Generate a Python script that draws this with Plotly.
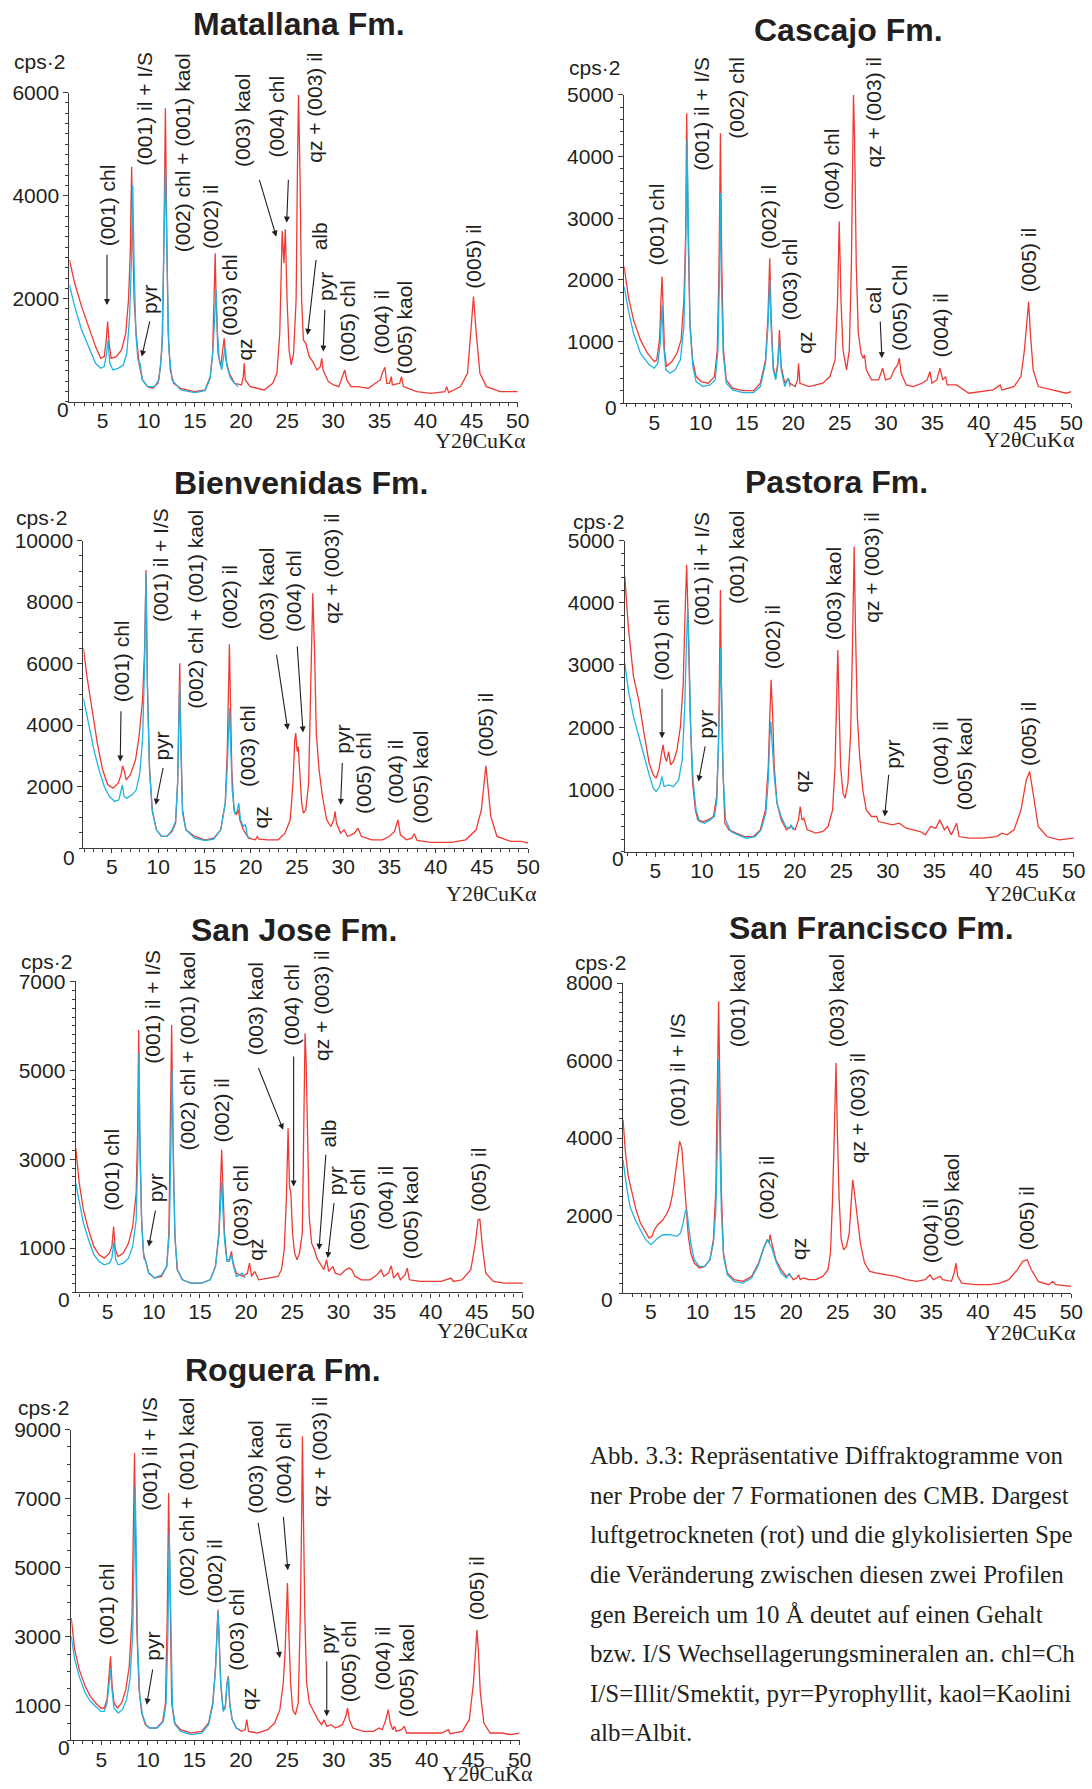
import plotly.graph_objects as go

W, H = 1092, 1789
# measured mapping from figure pixels to the photographed picture (picture = TY0 + SY*fig_y, SX*fig_x)
SX, SY, TY0 = 0.991, 0.9935, 12.0

# ---------------- data: (2theta, cps*2) ----------------
MAT_RED = [(1.4, 2751), (1.97, 2298), (2.72, 1845), (3.47, 1456), (4.23, 1068), (4.79, 841), (5.17, 874), (5.39, 1197),
           (5.54, 1553), (5.70, 1133), (5.92, 841), (6.49, 874), (7.05, 1003), (7.5, 1327), (7.8, 1974), (8.0, 2945),
           (8.14, 4563), (8.26, 3269), (8.41, 1974), (8.63, 1327), (8.94, 744), (9.31, 421), (9.88, 291), (10.44, 259),
           (11.0, 356), (11.27, 680), (11.5, 1327), (11.65, 3269), (11.8, 5696), (11.95, 3269), (12.1, 1327), (12.33, 615),
           (12.7, 356), (13.46, 259), (14.96, 194), (16.1, 227), (16.66, 485), (16.92, 939), (17.1, 1974), (17.2, 2880),
           (17.3, 1974), (17.5, 939), (17.8, 680), (17.98, 939), (18.17, 1230), (18.36, 809), (18.73, 550), (19.3, 356),
           (20.05, 324), (20.24, 485), (20.35, 744), (20.46, 421), (20.99, 291), (22.5, 227), (23.44, 356), (23.89, 550),
           (24.2, 1327), (24.46, 3314), (24.65, 2686), (24.8, 3347), (24.99, 1974), (25.21, 1003), (25.44, 712), (25.7, 939),
           (25.97, 1974), (26.12, 4563), (26.23, 5955), (26.38, 4563), (26.57, 1974), (26.76, 1197), (27.02, 1133), (27.4, 874),
           (27.78, 777), (28.23, 615), (28.6, 680), (28.75, 841), (28.9, 615), (29.47, 388), (30.04, 324), (30.6, 291),
           (30.98, 485), (31.24, 615), (31.47, 421), (31.92, 291), (32.67, 291), (33.8, 259), (34.56, 356), (35.1, 421),
           (35.3, 550), (35.6, 667), (35.8, 356), (36.1, 356), (36.3, 485), (36.4, 324), (37.2, 356), (37.4, 485),
           (37.6, 291), (39.05, 194), (40.6, 162), (42.1, 194), (42.3, 291), (42.5, 175), (43.8, 291), (44.55, 550),
           (44.9, 1327), (45.2, 2039), (45.5, 1327), (45.9, 550), (46.6, 291), (48.1, 194), (50.0, 194)]
MAT_BLUE = [(1.4, 2265), (1.97, 1845), (2.72, 1392), (3.47, 1068), (4.23, 744), (4.79, 647), (5.17, 680), (5.43, 939),
            (5.58, 1197), (5.77, 744), (6.11, 615), (6.67, 647), (7.24, 712), (7.62, 939), (7.92, 1650), (8.1, 2622),
            (8.26, 4207), (8.41, 2622), (8.6, 1327), (8.82, 809), (9.05, 744), (9.31, 421), (9.88, 291), (10.63, 291),
            (11.1, 421), (11.42, 1003), (11.61, 2622), (11.8, 4563), (11.99, 2622), (12.18, 1003), (12.52, 421), (13.46, 227),
            (14.96, 175), (16.1, 214), (16.66, 453), (16.96, 1003), (17.15, 1650), (17.3, 2168), (17.45, 1327), (17.64, 809),
            (17.9, 615), (18.1, 874), (18.29, 1068), (18.48, 680), (18.85, 453), (19.3, 356), (19.68, 291)]

CAS_RED = [(1.74, 2216), (2.19, 1730), (2.75, 1351), (3.5, 1027), (4.25, 811), (5.0, 676), (5.26, 703), (5.56, 1027),
           (5.71, 1676), (5.83, 2054), (5.94, 1567), (6.09, 865), (6.31, 595), (6.88, 676), (7.44, 811), (7.89, 1027),
           (8.19, 1676), (8.38, 2757), (8.49, 4702), (8.64, 2757), (8.83, 1351), (9.13, 703), (9.5, 432), (10.06, 351),
           (10.81, 324), (11.49, 432), (11.79, 865), (11.98, 2216), (12.13, 4378), (12.28, 2216), (12.46, 865), (12.76, 378),
           (13.44, 243), (14.56, 205), (15.69, 205), (16.44, 324), (17.0, 703), (17.26, 1405), (17.45, 2351), (17.6, 1405),
           (17.83, 595), (18.09, 405), (18.31, 649), (18.5, 1189), (18.69, 595), (19.07, 324), (19.44, 405), (19.63, 324),
           (20.2, 270), (20.45, 378), (20.56, 649), (20.71, 324), (21.69, 270), (23.19, 324), (23.94, 432), (24.5, 703),
           (24.77, 1676), (24.95, 2946), (25.14, 1676), (25.36, 865), (25.74, 541), (26.04, 865), (26.26, 2216), (26.41, 4378),
           (26.49, 5000), (26.6, 4378), (26.79, 2216), (27.01, 1135), (27.31, 811), (27.54, 730), (27.69, 784), (27.87, 541),
           (28.44, 378), (29.19, 378), (29.64, 568), (29.94, 378), (30.5, 405), (30.87, 541), (31.25, 622), (31.44, 730),
           (31.63, 486), (32.19, 297), (32.94, 270), (33.87, 324), (34.44, 378), (34.74, 514), (34.96, 324), (35.49, 378),
           (35.82, 568), (36.12, 378), (36.42, 432), (36.61, 297), (37.62, 297), (38.93, 162), (40.44, 189), (41.56, 216),
           (42.31, 297), (42.5, 216), (43.81, 270), (44.56, 432), (44.94, 865), (45.2, 1405), (45.39, 1649), (45.58, 1135),
           (45.88, 541), (46.44, 270), (47.94, 216), (49.44, 162), (50.0, 189)]
CAS_BLUE = [(1.74, 1892), (2.19, 1513), (2.75, 1135), (3.5, 811), (4.44, 622), (5.0, 568), (5.38, 649), (5.64, 973),
            (5.83, 1594), (5.98, 973), (6.24, 541), (6.69, 486), (7.25, 541), (7.81, 703), (8.19, 1243), (8.38, 2486),
            (8.53, 4270), (8.68, 2486), (8.86, 1189), (9.16, 595), (9.5, 351), (10.25, 270), (11.0, 297), (11.57, 378),
            (11.86, 865), (12.01, 1946), (12.13, 3405), (12.24, 1946), (12.43, 811), (12.76, 324), (13.44, 216), (14.56, 173),
            (15.69, 173), (16.44, 270), (17.0, 649), (17.26, 1243), (17.45, 2000), (17.6, 1243), (17.83, 541), (18.09, 378),
            (18.31, 595), (18.5, 1027), (18.69, 541), (19.07, 270), (19.44, 405), (19.66, 270)]

BIE_RED = [(1.92, 6500), (2.3, 5580), (2.86, 4496), (3.42, 3413), (3.99, 2546), (4.55, 2058), (5.11, 1950), (5.68, 2113),
           (5.98, 2383), (6.16, 2676), (6.35, 2492), (6.54, 2221), (6.99, 2383), (7.55, 2871), (7.93, 3629), (8.31, 4821),
           (8.53, 6446), (8.68, 9046), (8.83, 5363), (9.06, 2654), (9.36, 1246), (9.81, 596), (10.37, 379), (10.94, 379),
           (11.5, 542), (11.88, 813), (12.1, 2113), (12.21, 4279), (12.33, 6013), (12.44, 3738), (12.63, 1246), (13.0, 596),
           (13.94, 379), (15.07, 271), (16.01, 325), (16.76, 596), (17.25, 1463), (17.47, 3196), (17.59, 4821), (17.7, 6630),
           (17.81, 4821), (17.96, 2546), (18.19, 1246), (18.45, 1083), (18.68, 1246), (18.83, 921), (19.2, 596), (19.77, 325),
           (20.52, 271), (20.7, 379), (20.89, 293), (21.83, 271), (22.96, 271), (23.71, 488), (24.27, 921), (24.57, 2113),
           (24.76, 3521), (24.87, 3738), (25.02, 3142), (25.14, 3304), (25.29, 2546), (25.51, 1463), (25.7, 1138), (25.96, 1246),
           (26.26, 2113), (26.52, 5363), (26.71, 8288), (26.9, 6446), (27.09, 3738), (27.39, 2546), (27.76, 1679), (28.21, 921),
           (28.67, 704), (28.97, 921), (29.12, 1192), (29.27, 813), (29.72, 488), (30.1, 596), (30.47, 379), (31.22, 488),
           (31.6, 650), (31.97, 379), (33.1, 271), (34.23, 271), (34.98, 379), (35.54, 542), (35.92, 921), (36.18, 433),
           (36.86, 271), (37.42, 325), (37.68, 466), (37.98, 249), (39.48, 184), (41.74, 184), (43.24, 271), (44.37, 596),
           (44.93, 1246), (45.23, 2113), (45.42, 2676), (45.61, 2113), (45.95, 1029), (46.62, 379), (48.13, 217), (49.25, 217),
           (50.0, 163)]
BIE_BLUE = [(1.92, 4875), (2.48, 4063), (3.05, 3196), (3.61, 2546), (4.17, 2004), (4.74, 1679), (5.3, 1517), (5.75, 1571),
            (5.98, 1842), (6.13, 2058), (6.32, 1679), (6.62, 1625), (7.18, 1733), (7.63, 1896), (8.01, 2438), (8.31, 3521),
            (8.53, 5905), (8.68, 8938), (8.83, 5363), (9.06, 2546), (9.36, 1192), (9.81, 596), (10.37, 379), (10.94, 379),
            (11.5, 596), (11.88, 867), (12.1, 2113), (12.21, 3738), (12.33, 5363), (12.44, 3413), (12.63, 1138), (13.0, 596),
            (13.94, 325), (15.07, 249), (16.01, 293), (16.76, 596), (17.25, 1463), (17.47, 2654), (17.7, 4550), (17.85, 3196),
            (18.0, 1896), (18.26, 1138), (18.52, 1192), (18.71, 1463), (18.9, 921), (19.2, 704), (19.42, 758), (19.65, 379),
            (19.95, 325)]

PAS_RED = [(1.71, 4421), (2.08, 3617), (2.64, 2813), (3.2, 2438), (3.77, 1902), (4.33, 1420), (4.77, 1233), (5.07, 1179),
           (5.37, 1313), (5.63, 1527), (5.82, 1715), (6.01, 1527), (6.2, 1447), (6.42, 1608), (6.64, 1393), (6.94, 1447),
           (7.32, 1634), (7.69, 2010), (7.99, 2706), (8.18, 3778), (8.36, 4609), (8.51, 3778), (8.74, 2170), (9.0, 1099),
           (9.3, 670), (9.56, 509), (10.12, 482), (10.68, 509), (11.24, 563), (11.58, 884), (11.77, 1634), (11.88, 2706),
           (11.99, 4207), (12.1, 2706), (12.25, 1367), (12.47, 456), (12.92, 348), (13.67, 295), (14.6, 241), (15.54, 241),
           (16.28, 348), (16.84, 670), (17.14, 1367), (17.33, 2278), (17.44, 2760), (17.59, 2278), (17.78, 1367), (18.08, 777),
           (18.53, 509), (19.09, 348), (19.65, 402), (20.02, 348), (20.39, 509), (20.58, 723), (20.77, 509), (20.96, 536),
           (21.33, 348), (22.26, 295), (23.01, 322), (23.57, 402), (24.06, 670), (24.32, 1367), (24.51, 2438), (24.62, 3242),
           (24.74, 2438), (24.92, 1367), (25.18, 938), (25.41, 857), (25.71, 1099), (26.0, 1902), (26.19, 3242), (26.38, 4903),
           (26.53, 3510), (26.72, 2170), (26.97, 1527), (27.31, 991), (27.68, 670), (28.24, 563), (28.8, 563), (28.99, 482),
           (29.74, 456), (30.48, 429), (31.23, 456), (31.98, 375), (32.73, 348), (33.47, 322), (34.04, 268), (34.6, 402),
           (35.16, 375), (35.6, 509), (36.09, 348), (36.39, 402), (36.84, 268), (37.4, 456), (37.66, 241), (38.71, 214),
           (40.2, 214), (41.7, 241), (42.27, 295), (42.83, 268), (43.58, 348), (44.33, 670), (44.89, 1152), (45.26, 1286),
           (45.63, 938), (46.18, 402), (47.12, 241), (48.42, 188), (50.0, 214)]
PAS_BLUE = [(1.71, 3028), (2.08, 2599), (2.64, 2170), (3.2, 1849), (3.77, 1527), (4.33, 1233), (4.77, 1018), (5.07, 965),
            (5.45, 1045), (5.71, 1206), (5.93, 1045), (6.38, 1072), (6.94, 1045), (7.5, 1152), (7.88, 1474), (8.14, 2278),
            (8.32, 3242), (8.47, 3912), (8.62, 3242), (8.81, 1902), (9.07, 1099), (9.37, 670), (9.74, 482), (10.3, 456),
            (10.87, 509), (11.35, 563), (11.61, 831), (11.8, 1634), (11.91, 2385), (12.02, 3269), (12.14, 2385), (12.29, 1206),
            (12.55, 509), (13.11, 322), (13.86, 268), (14.79, 214), (15.72, 241), (16.36, 348), (16.88, 616), (17.14, 1152),
            (17.29, 1795), (17.41, 2090), (17.56, 1742), (17.78, 1206), (18.08, 777), (18.53, 563), (19.01, 402), (19.39, 375),
            (19.58, 429), (19.84, 348)]

SJO_RED = [(1.54, 3248), (1.92, 2460), (2.37, 1860), (2.93, 1410), (3.5, 1035), (4.06, 848), (4.63, 773), (5.19, 885),
           (5.46, 1035), (5.64, 1485), (5.83, 960), (6.13, 810), (6.7, 885), (7.26, 1110), (7.71, 1485), (8.09, 2235),
           (8.24, 3585), (8.36, 5910), (8.47, 3585), (8.66, 1710), (8.88, 885), (9.15, 698), (9.45, 435), (10.09, 323),
           (10.84, 360), (11.4, 585), (11.63, 1335), (11.78, 3585), (11.93, 6023), (12.08, 3585), (12.27, 1335), (12.53, 510),
           (13.1, 285), (14.04, 210), (15.17, 210), (16.11, 285), (16.68, 585), (17.05, 1335), (17.24, 2460), (17.35, 3210),
           (17.47, 2460), (17.66, 1335), (17.92, 735), (18.18, 735), (18.41, 923), (18.6, 660), (18.94, 435), (19.31, 398),
           (19.69, 360), (20.14, 435), (20.37, 660), (20.59, 360), (20.93, 473), (21.38, 285), (22.51, 323), (23.45, 360),
           (23.83, 510), (24.13, 960), (24.36, 2085), (24.55, 3698), (24.7, 2385), (24.85, 2235), (25.03, 1335), (25.26, 885),
           (25.52, 735), (25.79, 885), (26.09, 1335), (26.24, 3585), (26.39, 5835), (26.5, 5235), (26.65, 3585), (26.84, 1710),
           (27.1, 1110), (27.4, 960), (27.67, 773), (27.97, 660), (28.42, 510), (28.72, 735), (28.95, 473), (29.4, 585),
           (29.66, 435), (30.23, 398), (30.79, 510), (31.17, 548), (31.44, 510), (31.81, 360), (32.49, 285), (33.43, 285),
           (34.18, 398), (34.63, 510), (34.93, 360), (35.42, 435), (35.73, 600), (35.99, 323), (36.44, 435), (36.71, 285),
           (37.23, 398), (37.46, 548), (37.69, 285), (38.89, 248), (40.02, 248), (41.15, 248), (42.2, 323), (42.47, 248),
           (43.41, 285), (44.35, 510), (44.84, 1110), (45.14, 1635), (45.33, 1650), (45.6, 1035), (45.97, 435), (46.8, 248),
           (47.93, 210), (50.0, 210)]
SJO_BLUE = [(1.54, 2460), (1.92, 2010), (2.37, 1560), (2.93, 1185), (3.5, 848), (4.06, 698), (4.63, 623), (5.19, 660),
            (5.46, 773), (5.68, 1148), (5.87, 735), (6.13, 623), (6.7, 660), (7.26, 773), (7.71, 1035), (8.09, 1635),
            (8.28, 3210), (8.39, 5385), (8.51, 3210), (8.7, 1485), (8.92, 773), (9.15, 698), (9.45, 435), (10.09, 323),
            (10.84, 398), (11.4, 585), (11.67, 1335), (11.82, 2835), (11.97, 5010), (12.12, 2835), (12.31, 1185), (12.57, 510),
            (13.1, 285), (14.04, 210), (15.17, 210), (16.11, 285), (16.68, 585), (17.05, 1260), (17.24, 1935), (17.35, 2498),
            (17.47, 1935), (17.66, 1185), (17.92, 698), (18.18, 698), (18.41, 848), (18.6, 623), (18.94, 360), (19.31, 398),
            (19.58, 435), (19.88, 323)]

SFR_RED = [(2.02, 4473), (2.28, 3613), (2.58, 3011), (2.95, 2581), (3.4, 2151), (3.88, 1806), (4.44, 1548), (4.81, 1419),
           (5.11, 1462), (5.37, 1634), (5.74, 1763), (6.3, 1892), (6.74, 2065), (7.04, 2237), (7.34, 2581), (7.6, 3097),
           (7.86, 3613), (8.08, 3914), (8.31, 3742), (8.53, 3097), (8.75, 2237), (9.01, 1462), (9.27, 1032), (9.64, 774),
           (10.2, 645), (10.76, 688), (11.32, 860), (11.69, 1376), (11.95, 2667), (12.1, 4989), (12.25, 7527), (12.4, 4989),
           (12.54, 2667), (12.77, 1032), (13.18, 516), (13.92, 344), (14.85, 301), (15.78, 430), (16.52, 774), (17.08, 1161),
           (17.45, 1376), (17.64, 1290), (17.75, 1505), (17.94, 1290), (18.38, 860), (18.94, 602), (19.5, 430), (19.87, 473),
           (20.24, 344), (20.61, 387), (20.8, 473), (20.99, 344), (21.36, 387), (21.92, 344), (22.66, 344), (23.4, 430),
           (23.96, 602), (24.22, 1032), (24.44, 2409), (24.63, 4129), (24.81, 5935), (24.96, 4129), (25.15, 2409), (25.37, 1376),
           (25.63, 1118), (25.93, 1204), (26.23, 1548), (26.41, 2237), (26.6, 2925), (26.79, 2581), (27.05, 1978), (27.42, 1290),
           (27.87, 774), (28.42, 559), (29.17, 516), (30.1, 473), (31.21, 430), (32.33, 344), (33.44, 301), (34.37, 344),
           (34.86, 473), (35.23, 344), (35.68, 387), (35.94, 430), (36.23, 344), (37.16, 301), (37.46, 516), (37.65, 774),
           (37.83, 430), (38.28, 258), (39.77, 215), (41.25, 215), (42.37, 258), (43.3, 344), (44.23, 602), (44.79, 817),
           (45.27, 860), (45.72, 602), (46.46, 301), (47.58, 215), (48.02, 301), (48.32, 215), (50.0, 172)]
SFR_BLUE = [(2.02, 3441), (2.39, 2753), (2.76, 2237), (3.32, 1892), (3.88, 1634), (4.44, 1376), (5.0, 1247), (5.37, 1333),
            (5.74, 1419), (6.3, 1505), (7.04, 1505), (7.78, 1462), (8.16, 1548), (8.45, 1806), (8.68, 2108), (8.83, 2151),
            (9.01, 1806), (9.27, 1290), (9.64, 860), (10.2, 688), (10.76, 688), (11.32, 860), (11.69, 1290), (11.95, 2151),
            (12.1, 3699), (12.25, 6021), (12.4, 3699), (12.54, 2151), (12.77, 946), (13.18, 473), (13.92, 301), (14.85, 258),
            (15.78, 387), (16.52, 731), (17.08, 1161), (17.45, 1376), (17.68, 1290), (18.01, 1118), (18.38, 817), (18.94, 516),
            (19.5, 387), (19.8, 516), (20.06, 387)]

ROG_RED = [(1.75, 3544), (2.12, 2627), (2.61, 2047), (3.25, 1564), (3.81, 1275), (4.37, 1082), (4.93, 937), (5.3, 937),
           (5.6, 1178), (5.79, 1854), (5.98, 2434), (6.13, 1661), (6.35, 1082), (6.73, 937), (7.17, 1082), (7.62, 1468),
           (7.99, 2144), (8.29, 3592), (8.45, 6007), (8.56, 8324), (8.67, 6007), (8.82, 3110), (9.05, 1468), (9.34, 792),
           (9.72, 454), (10.17, 357), (10.92, 357), (11.59, 550), (11.89, 1082), (12.08, 3592), (12.23, 7166), (12.38, 3592),
           (12.56, 1082), (12.86, 502), (13.53, 309), (14.66, 212), (15.78, 261), (16.53, 502), (16.98, 1082), (17.28, 2144),
           (17.43, 3110), (17.54, 3785), (17.65, 3110), (17.84, 1661), (18.1, 888), (18.33, 985), (18.51, 1661), (18.66, 1854),
           (18.81, 1082), (19.07, 599), (19.52, 357), (20.08, 261), (20.46, 309), (20.64, 599), (20.83, 261), (21.77, 212),
           (22.89, 309), (23.64, 502), (24.2, 888), (24.57, 1661), (24.76, 2530), (24.91, 4075), (25.02, 4558), (25.17, 3110),
           (25.36, 1661), (25.58, 888), (25.88, 744), (26.18, 1082), (26.4, 3592), (26.55, 6490), (26.63, 8807), (26.74, 6490),
           (26.89, 3592), (27.08, 1661), (27.38, 1082), (27.75, 888), (28.31, 599), (28.69, 454), (28.95, 599), (29.25, 406),
           (29.7, 454), (30.18, 357), (30.93, 454), (31.3, 695), (31.49, 937), (31.68, 599), (32.05, 357), (33.18, 261),
           (34.3, 261), (34.86, 357), (35.23, 309), (35.61, 599), (35.87, 888), (36.09, 502), (36.36, 309), (36.54, 406),
           (36.73, 261), (37.29, 309), (37.59, 406), (37.85, 212), (39.35, 212), (40.47, 212), (41.59, 212), (42.34, 309),
           (42.53, 193), (43.84, 261), (44.59, 599), (45.04, 1661), (45.26, 2627), (45.41, 3206), (45.56, 2627), (45.78, 1371),
           (46.16, 502), (46.83, 212), (48.14, 212), (49.08, 164), (50.0, 212)]
ROG_BLUE = [(1.75, 3013), (2.12, 2337), (2.61, 1854), (3.25, 1371), (3.81, 1130), (4.37, 985), (4.93, 840), (5.3, 840),
            (5.6, 1082), (5.79, 1564), (5.98, 2047), (6.13, 1468), (6.35, 937), (6.8, 792), (7.25, 888), (7.7, 1178),
            (8.07, 1758), (8.37, 3110), (8.52, 5524), (8.63, 7359), (8.74, 5524), (8.89, 2820), (9.12, 1275), (9.42, 744),
            (9.79, 454), (10.24, 357), (10.99, 357), (11.66, 550), (11.96, 1082), (12.15, 3110), (12.3, 6007), (12.45, 3110),
            (12.64, 985), (12.94, 454), (13.53, 261), (14.66, 164), (15.78, 212), (16.53, 454), (16.98, 1033), (17.28, 2047),
            (17.43, 3013), (17.54, 3737), (17.65, 3013), (17.84, 1613), (18.1, 840), (18.33, 937), (18.51, 1613), (18.66, 1806),
            (18.81, 1033), (19.07, 599), (19.52, 357), (19.89, 309)]

X_TICKS = [5, 10, 15, 20, 25, 30, 35, 40, 45, 50]
MAT_YTICKS = [2000, 4000, 6000]
CAS_YTICKS = [1000, 2000, 3000, 4000, 5000]
BIE_YTICKS = [2000, 4000, 6000, 8000, 10000]
PAS_YTICKS = [1000, 2000, 3000, 4000, 5000]
SJO_YTICKS = [1000, 3000, 5000, 7000]
SFR_YTICKS = [2000, 4000, 6000, 8000]
ROG_YTICKS = [1000, 3000, 5000, 7000, 9000]

# peak labels: (text, 2theta, cps at text start)
MAT_LABELS = [("(001) chl", 5.47, 2997), ("(001) il + I/S", 9.5, 4563), ("pyr", 10.07, 1683),
              ("(002) chl + (001) kaol", 13.65, 2880), ("(002) il", 16.74, 2945), ("(003) chl", 18.73, 1262),
              ("qz", 20.43, 777), ("(003) kaol", 20.24, 4531), ("(004) chl", 23.82, 4725),
              ("qz + (003) il", 27.96, 4628), ("alb", 28.53, 2913), ("pyr", 29.09, 1942), ("(005) chl", 31.47, 744),
              ("(004) il", 35.31, 906), ("(005) kaol", 37.76, 518), ("(005) il", 45.22, 2168)]
MAT_ARROWS = [(5.47, 2880, 5.47, 1877), (10.14, 1586, 9.24, 874), (21.94, 4337, 23.82, 3204),
              (25.14, 4337, 24.95, 3476), (28.15, 2783, 27.21, 1295), (29.09, 1812, 28.91, 971)]
CAS_LABELS = [("(001) chl", 5.26, 2216), ("(001) il + I/S", 10.06, 3757), ("(002) chl", 13.89, 4270),
              ("(002) il", 17.38, 2486), ("(003) chl", 19.63, 1324), ("qz", 21.24, 784), ("(004) chl", 24.13, 3108),
              ("qz + (003) il", 28.62, 3811), ("cal", 28.62, 1432), ("(005) Chl", 31.44, 838),
              ("(004) il", 35.86, 730), ("(005) il", 45.31, 1784)]
CAS_ARROWS = [(29.37, 1351, 29.56, 730)]
BIE_LABELS = [("(001) chl", 5.98, 4713), ("(001) il + I/S", 10.18, 7313), ("pyr", 10.37, 2817),
              ("(002) chl + (001) kaol", 14.02, 4496), ("(002) il", 17.7, 7096), ("(003) chl", 19.58, 1950),
              ("qz", 21.08, 596), ("(003) kaol", 21.64, 6717), ("(004) chl", 24.65, 6988),
              ("qz + (003) il", 28.78, 7259), ("pyr", 29.91, 3034), ("(005) chl", 32.27, 1083),
              ("(004) il", 35.73, 1408), ("(005) kaol", 38.36, 758), ("(005) il", 45.31, 2925)]
BIE_ARROWS = [(5.98, 4496, 5.9, 2817), (10.56, 2654, 9.73, 1408), (22.77, 6338, 24.01, 3846),
              (25.02, 6609, 25.66, 3759), (29.91, 2817, 29.72, 1408)]
PAS_LABELS = [("(001) chl", 5.63, 2733), ("(001) il + I/S", 9.93, 3617), ("pyr", 10.38, 1795),
              ("(001) kaol", 13.74, 3966), ("(002) il", 17.59, 2921), ("qz", 20.69, 938), ("(003) kaol", 24.13, 3376),
              ("qz + (003) il", 28.24, 3671), ("pyr", 30.48, 1313), ("(004) il", 35.72, 1045),
              ("(005) kaol", 38.15, 643), ("(005) il", 45.13, 1367)]
PAS_ARROWS = [(5.71, 2642, 5.71, 1822), (10.38, 1715, 9.63, 1125), (30.11, 1259, 29.66, 563)]
SJO_LABELS = [("(001) chl", 5.38, 1823), ("(001) il + I/S", 9.9, 5123), ("pyr", 10.2, 2010),
              ("(002) chl + (001) kaol", 13.66, 3173), ("(002) il", 17.32, 3360), ("(003) chl", 19.31, 998),
              ("qz", 21.0, 698), ("(003) kaol", 21.0, 5310), ("(004) chl", 24.88, 5535),
              ("qz + (003) il", 28.16, 5198), ("alb", 28.91, 3248), ("pyr", 29.78, 2160), ("(005) chl", 32.04, 923),
              ("(004) il", 35.12, 1373), ("(005) kaol", 37.76, 735), ("(005) il", 45.1, 1785)]
SJO_ARROWS = [(10.2, 1875, 9.45, 1035), (21.27, 5085, 24.02, 3660), (25.15, 5348, 25.15, 2385),
              (28.65, 3135, 27.9, 960), (29.55, 2048, 28.84, 773)]
SFR_LABELS = [("(001) il + I/S", 7.78, 4258), ("(001) kaol", 14.29, 6322), ("(002) il", 17.38, 1849),
              ("qz", 20.8, 817), ("(003) kaol", 24.89, 6322), ("qz + (003) il", 27.12, 3312),
              ("(004) il", 34.93, 731), ("(005) kaol", 37.16, 1161), ("(005) il", 45.16, 1075)]
SFR_ARROWS = []
ROG_LABELS = [("(001) chl", 5.49, 2723), ("(001) il + I/S", 10.17, 6634), ("pyr", 10.54, 2289),
              ("(002) chl + (001) kaol", 14.1, 4124), ("(002) il", 17.2, 3930), ("(003) chl", 19.52, 1999),
              ("qz", 20.83, 840), ("(003) kaol", 21.58, 6538), ("(004) chl", 24.57, 6827),
              ("qz + (003) il", 28.42, 6731), ("pyr", 29.25, 2482), ("(005) chl", 31.68, 1082),
              ("(004) il", 35.23, 1420), ("(005) kaol", 37.85, 647), ("(005) il", 45.33, 3448)]
ROG_ARROWS = [(10.54, 2096, 9.87, 1033), (21.84, 6345, 24.2, 2385), (24.57, 6518, 25.06, 4925),
              (29.25, 2337, 29.25, 695)]

# caption, as far as it is visible before the right edge of the page
CAPTION = [
    "Abb. 3.3: Repräsentative Diffraktogramme von",
    "ner Probe der 7 Formationen des CMB. Dargest",
    "luftgetrockneten (rot) und die glykolisierten Spe",
    "die Veränderung zwischen diesen zwei Profilen",
    "gen Bereich um 10 Å deutet auf einen Gehalt",
    "bzw. I/S Wechsellagerungsmineralen an. chl=Ch",
    "I/S=Illit/Smektit, pyr=Pyrophyllit, kaol=Kaolini",
    "alb=Albit.",
]

# ---------------- layout geometry (target picture pixels) ----------------
PANELS = [
    dict(title="Matallana Fm.", red=MAT_RED, blue=MAT_BLUE, yt=MAT_YTICKS, labels=MAT_LABELS, arrows=MAT_ARROWS,
         x0=69.6, x1=518.8, yb=401.7, ytop=92.7, xmin=1.4, ymax=6000, ymin_dt=200,
         tpos=(299.5, 24), cps=(12, 62), zero=(62.7, 410), xl=(529.3, 441)),
    dict(title="Cascajo Fm.", red=CAS_RED, blue=CAS_BLUE, yt=CAS_YTICKS, labels=CAS_LABELS, arrows=CAS_ARROWS,
         x0=625.4, x1=1073.5, yb=403.3, ytop=95, xmin=1.74, ymax=5000, ymin_dt=200,
         tpos=(850.7, 30), cps=(568.6, 68), zero=(612.2, 408), xl=(1078.7, 440)),
    dict(title="Bienvenidas Fm.", red=BIE_RED, blue=BIE_BLUE, yt=BIE_YTICKS, labels=BIE_LABELS, arrows=BIE_ARROWS,
         x0=83.6, x1=529.3, yb=848.3, ytop=540.7, xmin=1.92, ymax=10000, ymin_dt=500,
         tpos=(301.2, 483), cps=(13.9, 518), zero=(69.6, 858), xl=(539.7, 894)),
    dict(title="Pastora Fm.", red=PAS_RED, blue=PAS_BLUE, yt=PAS_YTICKS, labels=PAS_LABELS, arrows=PAS_ARROWS,
         x0=626.1, x1=1075.9, yb=851.7, ytop=540.7, xmin=1.71, ymax=5000, ymin_dt=200,
         tpos=(838.5, 482), cps=(572.1, 522), zero=(619.1, 859), xl=(1080.0, 894)),
    dict(title="San Jose Fm.", red=SJO_RED, blue=SJO_BLUE, yt=SJO_YTICKS, labels=SJO_LABELS, arrows=SJO_ARROWS,
         x0=75.9, x1=524.0, yb=1292.7, ytop=981.7, xmin=1.54, ymax=7000, ymin_dt=200,
         tpos=(294.2, 930), cps=(19.2, 962), zero=(64.4, 1300), xl=(531.0, 1331)),
    dict(title="San Francisco Fm.", red=SFR_RED, blue=SFR_BLUE, yt=SFR_YTICKS, labels=SFR_LABELS, arrows=SFR_ARROWS,
         x0=624.3, x1=1073.5, yb=1293.3, ytop=983.3, xmin=2.02, ymax=8000, ymin_dt=250,
         tpos=(873.3, 928), cps=(573.9, 963), zero=(608.7, 1300), xl=(1080.0, 1333)),
    dict(title="Roguera Fm.", red=ROG_RED, blue=ROG_BLUE, yt=ROG_YTICKS, labels=ROG_LABELS, arrows=ROG_ARROWS,
         x0=71.4, x1=520.6, yb=1740.7, ytop=1430, xmin=1.75, ymax=9000, ymin_dt=500,
         tpos=(283.8, 1370), cps=(15.7, 1408), zero=(64.4, 1748), xl=(536.2, 1774)),
]

RED = "#EE3A33"
BLUE = "#1FB4E2"
INK = "#231f20"
AX = "#3a3a3a"
SANS = "Liberation Sans, Arial, sans-serif"
SERIF = "Liberation Serif, Times New Roman, serif"


def px(x):
    return min(1.0, max(0.0, (x / SX) / W))


def py(y):
    return min(1.0, max(0.0, 1 - ((y - TY0) / SY) / H))


fig = go.Figure()
layout = dict(width=W, height=H, autosize=False, margin=dict(l=0, r=0, t=0, b=0, pad=0),
              paper_bgcolor="white", plot_bgcolor="white", showlegend=False)
annotations = []

for i, p in enumerate(PANELS):
    n = "" if i == 0 else str(i + 1)
    xr, yr = "x" + n, "y" + n
    rx, ry = zip(*p["red"])
    bx, by = zip(*p["blue"])
    fig.add_trace(go.Scatter(x=rx, y=ry, mode="lines", line=dict(color=RED, width=1.3),
                             xaxis=xr, yaxis=yr, hoverinfo="skip"))
    fig.add_trace(go.Scatter(x=bx, y=by, mode="lines", line=dict(color=BLUE, width=1.3),
                             xaxis=xr, yaxis=yr, hoverinfo="skip"))
    layout["xaxis" + n] = dict(
        domain=[px(p["x0"]), px(p["x1"])], range=[p["xmin"], 50], anchor=yr,
        tickmode="array", tickvals=X_TICKS, ticktext=[str(v) for v in X_TICKS],
        ticks="outside", ticklen=4, tickwidth=1, tickcolor=AX, ticklabelstandoff=-4,
        showline=True, linecolor=AX, linewidth=1.3, showgrid=False, zeroline=False,
        tickfont=dict(family=SANS, size=21, color=INK),
        minor=dict(tickmode="linear", tick0=0, dtick=1, ticks="outside", ticklen=3, tickcolor=AX, tickwidth=1),
    )
    layout["yaxis" + n] = dict(
        domain=[py(p["yb"]), py(p["ytop"])], range=[0, p["ymax"]], anchor=xr,
        tickmode="array", tickvals=p["yt"], ticktext=[str(v) for v in p["yt"]],
        ticks="outside", ticklen=5, tickwidth=1, tickcolor=AX,
        showline=True, linecolor=AX, linewidth=1.3, showgrid=False, zeroline=False,
        tickfont=dict(family=SANS, size=21, color=INK),
        minor=dict(tickmode="linear", tick0=0, dtick=p["ymin_dt"], ticks="outside", ticklen=3, tickcolor=AX,
                   tickwidth=1),
    )
    annotations.append(dict(x=px(p["tpos"][0]), y=py(p["tpos"][1]), xref="paper", yref="paper",
                            text="<b>%s</b>" % p["title"], showarrow=False, xanchor="center", yanchor="middle",
                            font=dict(family=SANS, size=32, color=INK)))
    annotations.append(dict(x=px(p["cps"][0]), y=py(p["cps"][1]), xref="paper", yref="paper",
                            text="cps·2", showarrow=False, xanchor="left", yanchor="middle",
                            font=dict(family=SANS, size=21, color=INK)))
    annotations.append(dict(x=px(p["zero"][0]), y=py(p["zero"][1]), xref="paper", yref="paper",
                            text="0", showarrow=False, xanchor="center", yanchor="middle",
                            font=dict(family=SANS, size=21, color=INK)))
    annotations.append(dict(x=px(p["xl"][0]), y=py(p["xl"][1]), xref="paper", yref="paper",
                            text="Υ2θCuKα", showarrow=False, xanchor="right", yanchor="middle",
                            font=dict(family=SERIF, size=22, color=INK)))
    for (t, lx, ly) in p["labels"]:
        annotations.append(dict(x=lx, y=ly, xref=xr, yref=yr, text=t, textangle=-90, showarrow=False,
                                xanchor="center", yanchor="bottom", borderpad=0,
                                font=dict(family=SANS, size=21, color=INK)))
    for (tx, ty, hx, hy) in p["arrows"]:
        annotations.append(dict(x=hx, y=hy, ax=tx, ay=ty, xref=xr, yref=yr, axref=xr, ayref=yr, text="",
                                showarrow=True, arrowhead=2, arrowsize=1.1, arrowwidth=1.1, arrowcolor=INK,
                                standoff=0, startstandoff=0))

for k, line in enumerate(CAPTION):
    annotations.append(dict(x=px(589.5), y=py(1456 + 39.6 * k), xref="paper", yref="paper", text=line,
                            showarrow=False, xanchor="left", yanchor="middle",
                            font=dict(family=SERIF, size=25, color=INK)))

layout["annotations"] = annotations
fig.update_layout(**layout)
fig.write_html(
    "out.html",
    post_script=("document.documentElement.style.margin='0';document.documentElement.style.padding='0';"
                 "document.body.style.margin='0';document.body.style.padding='0';"
                 "document.body.style.overflow='hidden';"),
    config={"displayModeBar": False, "responsive": False},
)
